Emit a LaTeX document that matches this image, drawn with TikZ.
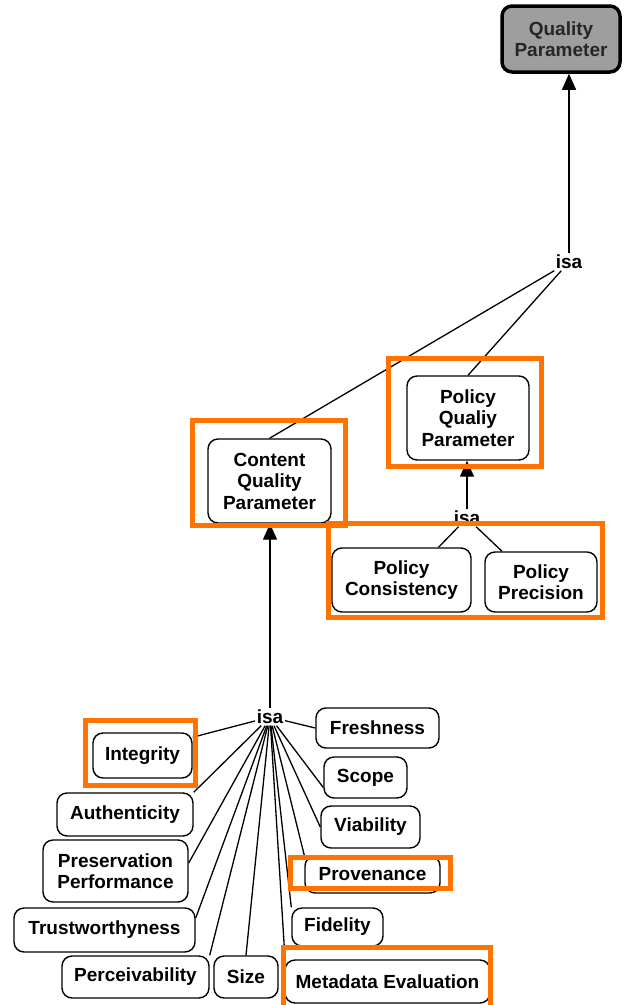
\documentclass[tikz,border=0pt]{standalone}
\usepackage{fontspec}
\setmainfont{Liberation Sans}
\usetikzlibrary{arrows.meta}
\begin{document}
\begin{tikzpicture}[x=1pt,y=-1pt,
  box/.style={draw=black,line width=1.4pt,rounded corners=10pt,fill=white,align=center,
    font=\fontsize{19}{21.5}\selectfont\bfseries,inner sep=2pt},
  isa/.style={font=\fontsize{19}{21.5}\selectfont\bfseries,inner sep=1.5pt},
  ln/.style={draw=black,line width=1.3pt},
  arr/.style={ln,-{Triangle[length=16pt,width=14pt]}},
  hl/.style={draw=orange!90!red,line width=5pt}]
\useasboundingbox (0,0) rectangle (628,1005);
% top
\node[box,fill=black!38,text=black!85,line width=3.5pt,minimum width=118pt,minimum height=66pt] (qp) at (561,39) {Quality\\Parameter};
\node[isa] (isa1) at (569,262) {isa};
\node[box,minimum width=122pt,minimum height=84pt] (pqp) at (468,418) {Policy\\Qualiy\\Parameter};
\node[box,minimum width=123pt,minimum height=84pt] (cqp) at (269.5,481) {Content\\Quality\\Parameter};
\node[isa] (isa2) at (467,518) {isa};
\node[box,minimum width=139pt,minimum height=64pt] (pc) at (401.5,580) {Policy\\Consistency};
\node[box,minimum width=112pt,minimum height=60pt] (pp) at (541,582) {Policy\\Precision};
\node[isa] (isa3) at (270,717) {isa};
% leaves
\node[box,minimum width=99pt,minimum height=45pt] (integ) at (142.5,755.5) {Integrity};
\node[box,minimum width=136pt,minimum height=43pt] (auth) at (125,814.5) {Authenticity};
\node[box,minimum width=145pt,minimum height=62pt] (pres) at (115.5,871) {Preservation\\Performance};
\node[box,minimum width=181pt,minimum height=44pt] (trust) at (104.5,930) {Trustworthyness};
\node[box,minimum width=147pt,minimum height=42pt] (perc) at (135.5,977) {Perceivability};
\node[box,minimum width=64pt,minimum height=42pt] (size) at (246,977) {Size};
\node[box,minimum width=205pt,minimum height=43pt] (meta) at (387.5,981.5) {Metadata Evaluation};
\node[box,minimum width=91pt,minimum height=38pt] (fid) at (337.5,927) {Fidelity};
\node[box,minimum width=135pt,minimum height=37pt] (prov) at (372.5,874.5) {Provenance};
\node[box,minimum width=99pt,minimum height=42pt] (via) at (370.5,827) {Viability};
\node[box,minimum width=83pt,minimum height=41pt] (scope) at (365.5,777.5) {Scope};
\node[box,minimum width=123pt,minimum height=40pt] (fresh) at (377.5,728) {Freshness};
% connectors
\draw[arr] (isa1) -- (qp.south -| isa1);
\draw[ln] (isa1) -- (cqp.north);
\draw[ln] (isa1) -- (pqp.north);
\draw[arr] (isa2) -- (pqp.south -| isa2);
\draw[ln] (isa2) -- ([xshift=37pt]pc.north);
\draw[ln] (isa2) -- ([xshift=-39pt]pp.north);
\draw[arr] (isa3) -- (cqp.south -| isa3);
\draw[ln] (isa3) -- (integ.20);
\draw[ln] (isa3) -- (auth.north east);
\draw[ln] (isa3) -- ([yshift=8pt]pres.east);
\draw[ln] (isa3) -- ([yshift=12pt]trust.east);
\draw[ln] (isa3) -- (perc.north east);
\draw[ln] (isa3) -- (size.north);
\draw[ln] (isa3) -- ([yshift=12pt]meta.north west);
\draw[ln] (isa3) -- (fid.north west);
\draw[ln] (isa3) -- (prov.north west);
\draw[ln] (isa3) -- (via.west);
\draw[ln] (isa3) -- ([yshift=-10pt]scope.west);
\draw[ln] (isa3) -- (fresh.west);
% highlights
\draw[hl] (388,358) rectangle (541,466);
\draw[hl] (192,420) rectangle (345,525);
\draw[hl] (328,523) rectangle (602,617);
\draw[hl] (85,720) rectangle (195,785);
\draw[hl] (290,857) rectangle (450,888);
\draw[hl] (283,947) rectangle (490,1008);
\end{tikzpicture}
\end{document}
